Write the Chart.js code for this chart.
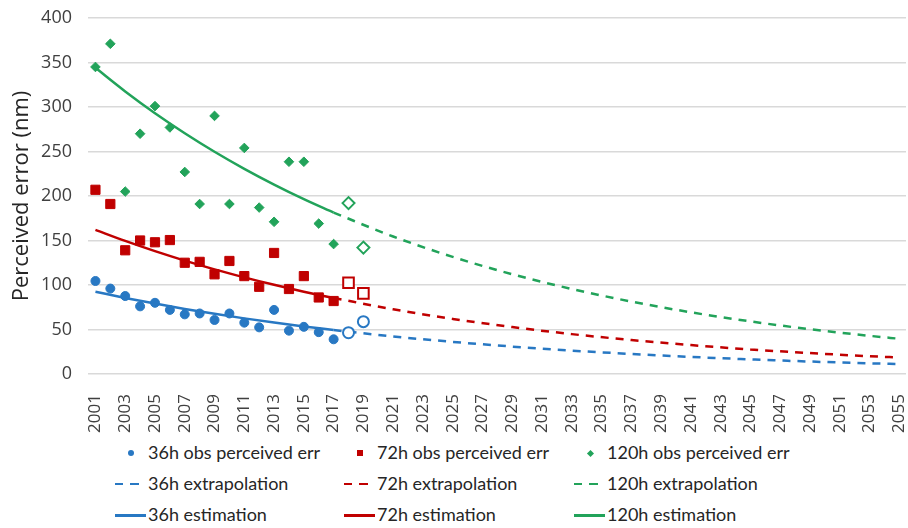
<!DOCTYPE html>
<html>
<head>
<meta charset="utf-8">
<script src="https://cdn.jsdelivr.net/npm/chart.js@4.4.1/dist/chart.umd.min.js"></script>
<style>
  body { margin: 0; background: #fff; }
  #wrap { position: relative; width: 908px; height: 528px; }
  #box { position: absolute; left: 0; top: 0; width: 908px; height: 440px; }
  .item { position: absolute; font: 18px Lato, sans-serif; color: #262626; line-height: 20px; white-space: nowrap; }
  .mk { position: absolute; }
</style>
</head>
<body>
<div id="wrap">
  <div id="box"><canvas id="grafico"></canvas></div>
  <div id="legend"></div>
</div>
<script>
// años observados (2018 y 2019 son los puntos huecos)
const years = [2001, 2002, 2003, 2004, 2005, 2006, 2007, 2008, 2009, 2010,
               2011, 2012, 2013, 2014, 2015, 2016, 2017, 2018, 2019];
const obs36 = [104.5, 96, 87.6, 76, 80, 72, 67, 68, 60.7, 68, 57.7, 52.4, 72, 48.7, 53, 47, 39, 46.4, 58.8];
const obs72 = [207, 191, 139, 150, 148, 150.5, 125, 126, 112, 127, 110, 98, 136, 95.5, 110, 86, 82, 102.6, 90.6];
const obs120 = [345, 371, 205, 270, 301, 277, 227, 191, 290, 191, 254, 187, 171, 238.5, 238.5, 169, 146, 192, 142];

// curvas de estimación (línea continua)
const estYears = [2001, 2003, 2005, 2007, 2009, 2011, 2013, 2015, 2017];
const est36 = [92.5, 85.5, 79.1, 73.1, 67.6, 62.5, 57.8, 53.4, 49.4];
const est72 = [162, 149.5, 138, 127.4, 117.6, 108.6, 100.2, 92.5, 85.4];
const est120 = [344, 317.5, 293, 270.5, 249.7, 230.5, 212.8, 196.4, 181.3];

// extrapolación (línea discontinua)
const extYears = [2017, 2021, 2025, 2029, 2033, 2037, 2041, 2045, 2049, 2053, 2055];
const ext36 = [49.4, 42.2, 36.1, 30.8, 26.3, 22.5, 19.2, 16.4, 14.0, 12.0, 11.1];
const ext72 = [85.4, 72.7, 61.9, 52.7, 44.8, 38.2, 32.5, 27.6, 23.5, 20.0, 18.5];
const ext120 = [181.3, 154.5, 131.6, 112.1, 95.5, 81.4, 69.3, 59.1, 50.3, 42.9, 39.6];

const tickYears = [2001, 2003, 2005, 2007, 2009, 2011, 2013, 2015, 2017, 2019, 2021, 2023, 2025, 2027,
                   2029, 2031, 2033, 2035, 2037, 2039, 2041, 2043, 2045, 2047, 2049, 2051, 2053, 2055];
const yTicks = [0, 50, 100, 150, 200, 250, 300, 350, 400];

const firstHollow = 2018;
const azul = '#2878c3';
const rojo = '#c00000';
const verde = '#22a35a';

function pares(xs, ys) {
    return xs.map((x, i) => ({ x: x, y: ys[i] }));
}

function serieObs(label, ys, color, estilo, rLleno, rHueco) {
    return {
        type: 'scatter',
        label: label,
        data: pares(years, ys),
        order: 0,
        pointStyle: estilo,
        pointRadius: ctx => (ctx.raw && ctx.raw.x >= firstHollow) ? rHueco : rLleno,
        pointBackgroundColor: ctx => (ctx.raw && ctx.raw.x >= firstHollow) ? '#ffffff' : color,
        pointBorderColor: color,
        pointBorderWidth: ctx => (ctx.raw && ctx.raw.x >= firstHollow) ? 2 : 1,
        showLine: false
    };
}

function serieLinea(label, xs, ys, color, dashed) {
    return {
        type: 'line',
        label: label,
        data: pares(xs, ys),
        order: 1,
        borderColor: color,
        borderWidth: 2.5,
        borderDash: dashed ? [8, 7] : [],
        pointRadius: 0,
        fill: false,
        cubicInterpolationMode: 'monotone'
    };
}

const ctx = document.getElementById('grafico').getContext('2d');
const chart = new Chart(ctx, {
    type: 'scatter',
    data: {
        datasets: [
            serieObs('36h obs perceived err', obs36, azul, 'circle', 4.5, 5.5),
            serieObs('72h obs perceived err', obs72, rojo, 'rect', 6.5, 7.5),
            serieObs('120h obs perceived err', obs120, verde, 'rectRot', 4.8, 6),
            serieLinea('36h extrapolation', extYears, ext36, azul, true),
            serieLinea('72h extrapolation', extYears, ext72, rojo, true),
            serieLinea('120h extrapolation', extYears, ext120, verde, true),
            serieLinea('36h estimation', estYears, est36, azul, false),
            serieLinea('72h estimation', estYears, est72, rojo, false),
            serieLinea('120h estimation', estYears, est120, verde, false)
        ]
    },
    options: {
        responsive: true,
        maintainAspectRatio: false,
        animation: false,
        layout: {
            autoPadding: false,
            padding: { top: 18, right: 2, left: 4, bottom: 6 }
        },
        plugins: {
            legend: { display: false },
            tooltip: { enabled: false }
        },
        scales: {
            x: {
                type: 'linear',
                min: 2000.5,
                max: 2055.45,
                afterBuildTicks: axis => { axis.ticks = tickYears.map(v => ({ value: v })); },
                afterFit: axis => {
                    axis.height = 60;
                    axis.paddingLeft = 0;
                    axis.paddingRight = 0;
                },
                grid: { display: false },
                border: { display: false },
                ticks: {
                    minRotation: 90,
                    maxRotation: 90,
                    autoSkip: false,
                    padding: 12,
                    color: '#404040',
                    font: { family: 'Open Sans', size: 17 },
                    callback: v => String(v)
                }
            },
            y: {
                min: 0,
                max: 400,
                afterBuildTicks: axis => { axis.ticks = yTicks.map(v => ({ value: v })); },
                afterFit: axis => {
                    axis.width = 84;
                    axis.paddingTop = 0;
                    axis.paddingBottom = 0;
                },
                grid: { color: '#d9d9d9', lineWidth: 1.5, drawTicks: false },
                border: { display: false },
                ticks: {
                    padding: 16,
                    color: '#404040',
                    font: { family: 'Open Sans', size: 18 }
                },
                title: {
                    display: true,
                    text: 'Perceived error (nm)',
                    color: '#262626',
                    font: { family: 'Open Sans', size: 22 },
                    padding: { top: 5, bottom: 4 }
                }
            }
        }
    }
});

// leyenda en HTML: 3 columnas x 3 filas
const legendCols = [148, 377, 607];
const legendRows = [453, 484, 515];
const legend = document.getElementById('legend');
const colores = [azul, rojo, verde];
chart.data.datasets.forEach((ds, i) => {
    const fila = Math.floor(i / 3);
    const col = i % 3;
    const left = legendCols[col];
    const cy = legendRows[fila];
    const c = colores[col];
    const txt = document.createElement('div');
    txt.className = 'item';
    txt.style.left = left + 'px';
    txt.style.top = (cy - 11) + 'px';
    txt.textContent = ds.label;
    legend.appendChild(txt);

    const mk = document.createElement('div');
    mk.className = 'mk';
    if (fila === 0) {
        const s = col === 2 ? 5 : 6;
        mk.style.width = s + 'px';
        mk.style.height = s + 'px';
        mk.style.background = c;
        mk.style.left = (left - 17 - s / 2) + 'px';
        mk.style.top = (cy - s / 2) + 'px';
        if (col === 0) mk.style.borderRadius = '50%';
        if (col === 2) mk.style.transform = 'rotate(45deg)';
    } else if (fila === 1) {
        mk.style.width = '24px';
        mk.style.height = '0px';
        mk.style.left = (left - 33) + 'px';
        mk.style.top = (cy - 1) + 'px';
        mk.style.borderTop = '2.5px solid transparent';
        mk.style.borderImage = 'repeating-linear-gradient(to right, ' + c + ' 0 8px, transparent 8px 15px) 1';
    } else {
        mk.style.width = '31px';
        mk.style.height = '2.5px';
        mk.style.background = c;
        mk.style.left = (left - 33) + 'px';
        mk.style.top = (cy - 1) + 'px';
    }
    legend.appendChild(mk);
});
</script>
</body>
</html>
